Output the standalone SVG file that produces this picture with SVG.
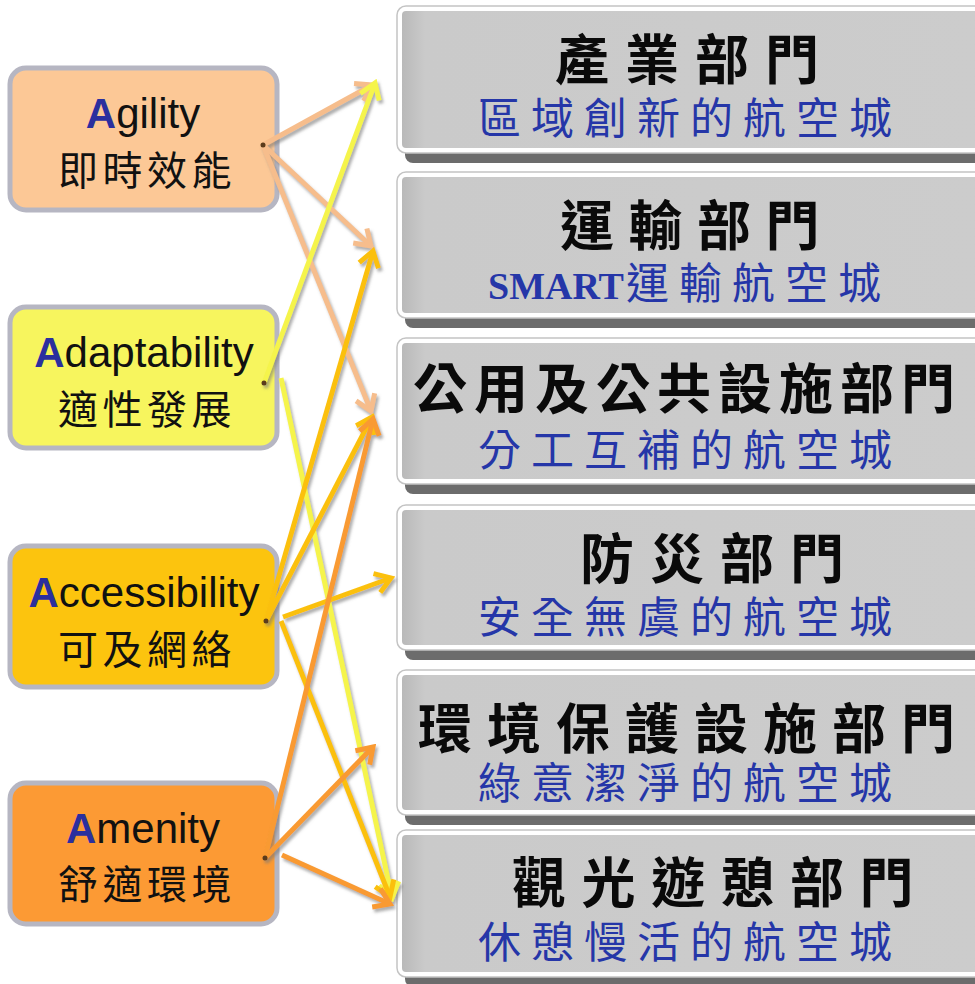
<svg xmlns="http://www.w3.org/2000/svg" width="975" height="984" viewBox="0 0 975 984">
<style>
.lbox{stroke:#b6b6c2;stroke-width:5}
.en{font-family:"Liberation Sans",Arial,sans-serif;font-size:42px;fill:#111}
.A{fill:#2b2f9e;font-weight:bold}
.zh{font-family:"Noto Sans CJK TC","Noto Sans CJK SC",sans-serif;font-size:40px;fill:#111;letter-spacing:4.5px}
.shadow{fill:#6c6c6c}
.outer{fill:#ffffff;stroke:#c4c4c4;stroke-width:1.5}
.inner{fill:url(#gray)}
.title{font-family:"Noto Sans CJK TC","Noto Sans CJK SC",sans-serif;font-weight:bold;font-size:54px;fill:#0a0a0a}
.sub{font-family:"Noto Sans CJK TC","Noto Sans CJK SC",sans-serif;font-size:43px;fill:#2536a8;letter-spacing:10px}
.smart{font-family:"Liberation Serif","Times New Roman",serif;font-weight:bold;font-size:38px;letter-spacing:0}
.c{fill:none;stroke-width:5;stroke-linecap:butt}
.peach{stroke:#f6bd8c}
.yel{stroke:#f5f44c}
.gold{stroke:#fbc00e}
.org{stroke:#f99a32}
.dot{fill:#5a3a1a}
</style>
<defs>
<linearGradient id="gray" x1="0" y1="0" x2="1" y2="0">
<stop offset="0" stop-color="#b9b9b9"/>
<stop offset="0.04" stop-color="#cacaca"/>
<stop offset="1" stop-color="#cccccc"/>
</linearGradient>
<filter id="ds" x="-20%" y="-20%" width="140%" height="140%">
<feDropShadow dx="2" dy="3" stdDeviation="1.5" flood-color="#777" flood-opacity="0.6"/>
</filter>
<marker id="mP" viewBox="-20 -14 24 28" refX="0" refY="0" markerWidth="24" markerHeight="28" markerUnits="userSpaceOnUse" orient="auto">
<path d="M-15,-10 L0,0 L-15,10" fill="none" stroke="#f6bd8c" stroke-width="5"/>
</marker>
<marker id="mY" viewBox="-20 -14 24 28" refX="0" refY="0" markerWidth="24" markerHeight="28" markerUnits="userSpaceOnUse" orient="auto">
<path d="M-15,-10 L0,0 L-15,10" fill="none" stroke="#f5f44c" stroke-width="5"/>
</marker>
<marker id="mG" viewBox="-20 -14 24 28" refX="0" refY="0" markerWidth="24" markerHeight="28" markerUnits="userSpaceOnUse" orient="auto">
<path d="M-15,-10 L0,0 L-15,10" fill="none" stroke="#fbc00e" stroke-width="5"/>
</marker>
<marker id="mO" viewBox="-20 -14 24 28" refX="0" refY="0" markerWidth="24" markerHeight="28" markerUnits="userSpaceOnUse" orient="auto">
<path d="M-15,-10 L0,0 L-15,10" fill="none" stroke="#f99a32" stroke-width="5"/>
</marker>
</defs>

<rect width="975" height="984" fill="#ffffff"/>

<g id="agility">
<rect class="lbox" x="10" y="68" width="267" height="142" rx="16" fill="#fcc896"/>
<text class="en" x="143" y="128" text-anchor="middle"><tspan class="A">A</tspan>gility</text>
<text class="zh" x="58" y="185">即時效能</text>
</g>
<g id="adaptability">
<rect class="lbox" x="10" y="307" width="267" height="141" rx="16" fill="#f7f55e"/>
<text class="en" x="144" y="367" text-anchor="middle"><tspan class="A">A</tspan>daptability</text>
<text class="zh" x="58" y="424">適性發展</text>
</g>
<g id="accessibility">
<rect class="lbox" x="10" y="546" width="267" height="141" rx="16" fill="#fcc40e"/>
<text class="en" x="144" y="607" text-anchor="middle"><tspan class="A">A</tspan>ccessibility</text>
<text class="zh" x="58" y="664">可及網絡</text>
</g>
<g id="amenity">
<rect class="lbox" x="10" y="783" width="267" height="141" rx="16" fill="#fc9a34"/>
<text class="en" x="143" y="843" text-anchor="middle"><tspan class="A">A</tspan>menity</text>
<text class="zh" x="58" y="899">舒適環境</text>
</g>

<g id="dept1">
<rect class="shadow" x="405" y="16" width="590" height="147" rx="8"/>
<rect class="outer" x="397" y="6" width="590" height="147" rx="9"/>
<rect class="inner" x="402" y="11" width="580" height="137" rx="4"/>
<text class="title" x="555" y="80" letter-spacing="16">產業部門</text>
<text class="sub" x="478" y="134">區域創新的航空城</text>
</g>
<g id="dept2">
<rect class="shadow" x="405" y="182" width="590" height="146" rx="8"/>
<rect class="outer" x="397" y="172" width="590" height="146" rx="9"/>
<rect class="inner" x="402" y="177" width="580" height="136" rx="4"/>
<text class="title" x="560" y="246" letter-spacing="14.5">運輸部門</text>
<text class="sub" x="488" y="299"><tspan class="smart">SMART</tspan><tspan dx="2">運輸航空城</tspan></text>
</g>
<g id="dept3">
<rect class="shadow" x="405" y="348" width="590" height="146" rx="8"/>
<rect class="outer" x="397" y="338" width="590" height="146" rx="9"/>
<rect class="inner" x="402" y="343" width="580" height="136" rx="4"/>
<text class="title" x="413" y="409" font-size="52" letter-spacing="7">公用及公共設施部門</text>
<text class="sub" x="478" y="466">分工互補的航空城</text>
</g>
<g id="dept4">
<rect class="shadow" x="405" y="515" width="590" height="145" rx="8"/>
<rect class="outer" x="397" y="505" width="590" height="145" rx="9"/>
<rect class="inner" x="402" y="510" width="580" height="135" rx="4"/>
<text class="title" x="580" y="579" letter-spacing="16">防災部門</text>
<text class="sub" x="478" y="633">安全無虞的航空城</text>
</g>
<g id="dept5">
<rect class="shadow" x="405" y="680" width="590" height="145" rx="8"/>
<rect class="outer" x="397" y="670" width="590" height="145" rx="9"/>
<rect class="inner" x="402" y="675" width="580" height="135" rx="4"/>
<text class="title" x="418" y="749" letter-spacing="15">環境保護設施部門</text>
<text class="sub" x="478" y="799">綠意潔淨的航空城</text>
</g>
<g id="dept6">
<rect class="shadow" x="405" y="840" width="590" height="147" rx="8"/>
<rect class="outer" x="397" y="830" width="590" height="147" rx="9"/>
<rect class="inner" x="402" y="835" width="580" height="137" rx="4"/>
<text class="title" x="512" y="903" letter-spacing="15.5">觀光遊憩部門</text>
<text class="sub" x="478" y="958">休憩慢活的航空城</text>
</g>

<g id="connectors" filter="url(#ds)">
<line class="c peach" x1="263" y1="145" x2="372" y2="85" marker-end="url(#mP)"/>
<line class="c peach" x1="263" y1="145" x2="371" y2="246" marker-end="url(#mP)"/>
<line class="c peach" x1="263" y1="145" x2="371" y2="411" marker-end="url(#mP)"/>
<line class="c yel" x1="264" y1="383" x2="375" y2="83" marker-end="url(#mY)"/>
<line class="c yel" x1="281" y1="378" x2="392" y2="898" marker-end="url(#mY)"/>
<line class="c gold" x1="266" y1="621" x2="373" y2="251" marker-end="url(#mG)"/>
<line class="c gold" x1="266" y1="621" x2="372" y2="417" marker-end="url(#mG)"/>
<line class="c gold" x1="283" y1="617" x2="391" y2="578" marker-end="url(#mG)"/>
<line class="c gold" x1="281" y1="621" x2="390" y2="897" marker-end="url(#mG)"/>
<line class="c org" x1="265" y1="858" x2="373" y2="419" marker-end="url(#mO)"/>
<line class="c org" x1="265" y1="858" x2="373" y2="747" marker-end="url(#mO)"/>
<line class="c org" x1="282" y1="855" x2="390" y2="904" marker-end="url(#mO)"/>
<circle class="dot" cx="263" cy="145" r="2.5"/>
<circle class="dot" cx="264" cy="383" r="2.5"/>
<circle class="dot" cx="266" cy="621" r="2.5"/>
<circle class="dot" cx="265" cy="858" r="2.5"/>
</g>
</svg>
